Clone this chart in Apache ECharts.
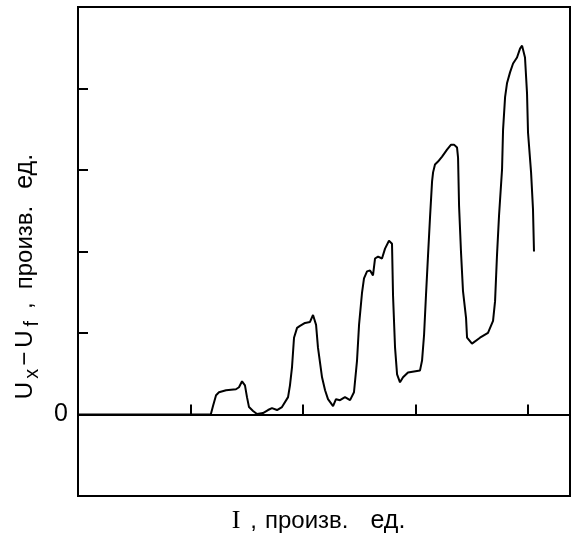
<!DOCTYPE html>
<html>
<head>
<meta charset="utf-8">
<script src="https://cdn.jsdelivr.net/npm/echarts@6/dist/echarts.min.js"></script>
<style>
  html, body { margin: 0; padding: 0; background: #fff; }
  #chart { width: 572px; height: 539px; }
</style>
</head>
<body>
<div id="chart"></div>
<script>
  // current I (arbitrary units, one tick = 1)
  var currentI = [0, 1.180, 1.200, 1.227, 1.253, 1.316, 1.404, 1.431, 1.458, 1.484, 1.502, 1.520, 1.556, 1.591,
    1.644, 1.689, 1.724, 1.769, 1.813, 1.867, 1.884, 1.902, 1.920, 1.947, 1.973, 2.018, 2.062, 2.089, 2.116,
    2.133, 2.169, 2.196, 2.222, 2.267, 2.293, 2.329, 2.373, 2.418, 2.453, 2.480, 2.498, 2.524, 2.542, 2.569,
    2.596, 2.622, 2.640, 2.667, 2.702, 2.729, 2.764, 2.791, 2.800, 2.818, 2.836, 2.862, 2.889, 2.933, 3.040,
    3.058, 3.076, 3.093, 3.111, 3.129, 3.147, 3.156, 3.173, 3.200, 3.236, 3.280, 3.316, 3.342, 3.369, 3.378,
    3.387, 3.404, 3.422, 3.449, 3.458, 3.502, 3.573, 3.644, 3.689, 3.707, 3.724, 3.742, 3.769, 3.778, 3.796,
    3.813, 3.840, 3.867, 3.902, 3.929, 3.947, 3.964, 3.973, 3.991, 4.000, 4.027, 4.044, 4.053];
  // Ux - Uf (arbitrary units, one tick = 1)
  var voltageDiff = [0, 0, 0.103, 0.237, 0.273, 0.298, 0.310, 0.334, 0.407, 0.358, 0.213, 0.091, 0.043, 0.006,
    0.018, 0.055, 0.079, 0.055, 0.091, 0.213, 0.358, 0.577, 0.942, 1.063, 1.087, 1.124, 1.136, 1.221, 1.100,
    0.820, 0.456, 0.298, 0.188, 0.103, 0.188, 0.176, 0.213, 0.176, 0.273, 0.662, 1.100, 1.488, 1.671, 1.756,
    1.768, 1.707, 1.914, 1.938, 1.914, 2.035, 2.132, 2.096, 1.464, 0.820, 0.492, 0.395, 0.456, 0.516, 0.541,
    0.662, 0.978, 1.464, 1.950, 2.424, 2.861, 2.971, 3.068, 3.104, 3.165, 3.250, 3.311, 3.311, 3.275, 3.153,
    2.558, 1.999, 1.513, 1.185, 0.942, 0.869, 0.942, 1.002, 1.148, 1.391, 1.950, 2.436, 3.007, 3.493, 3.894,
    4.064, 4.198, 4.307, 4.380, 4.490, 4.526, 4.526, 4.380, 3.943, 3.457, 2.971, 2.521, 1.999];
  var yTickLabels = ['0'];

  var chart = echarts.init(document.getElementById('chart'));
  var points = currentI.map(function (x, i) { return [x, voltageDiff[i]]; });

  chart.setOption({
    animation: false,
    grid: {
      left: 78,
      right: 2,
      top: 7,
      bottom: 39,
      show: true,
      borderColor: '#000',
      borderWidth: 2
    },
    xAxis: {
      type: 'value',
      min: 0,
      max: 4.373,
      interval: 1,
      name: '{t|I}{c|,}{w|произв.}{e|ед.}',
      nameLocation: 'middle',
      nameGap: 10,
      nameTextStyle: {
        padding: [0, 11, 0, 0],
        rich: {
          t: { fontFamily: 'Liberation Serif', fontSize: 26, color: '#000', lineHeight: 30 },
          c: { fontFamily: 'Liberation Sans', fontSize: 24, color: '#000', lineHeight: 30, padding: [0, 0, 0, 10] },
          w: { fontFamily: 'Liberation Sans', fontSize: 24, color: '#000', lineHeight: 30, padding: [0, 0, 0, 8] },
          e: { fontFamily: 'Liberation Sans', fontSize: 25, color: '#000', lineHeight: 30, padding: [0, 0, 0, 22] }
        }
      },
      axisLine: { show: false },
      axisTick: { show: true, inside: true, length: 10, lineStyle: { color: '#000', width: 2 } },
      axisLabel: { show: false },
      splitLine: { show: false }
    },
    yAxis: {
      type: 'value',
      min: -1,
      max: 5,
      interval: 1,
      name: '{m|U}{s|x}{o|−}{u|U}{f|f}{c|,}{w|произв.}{e|ед.}',
      nameLocation: 'middle',
      nameRotate: 90,
      nameGap: 36,
      nameTextStyle: {
        padding: [0, 50, 0, 0],
        rich: {
          m: { fontFamily: 'Liberation Sans', fontSize: 24, color: '#000', lineHeight: 34 },
          s: { fontFamily: 'Liberation Sans', fontSize: 20, color: '#000', lineHeight: 16, verticalAlign: 'bottom', padding: [0, 0, 0, 3] },
          o: { fontFamily: 'Liberation Sans', fontSize: 24, color: '#000', lineHeight: 34, padding: [0, 0, 0, 3] },
          u: { fontFamily: 'Liberation Sans', fontSize: 24, color: '#000', lineHeight: 34, padding: [0, 0, 0, 4] },
          f: { fontFamily: 'Liberation Sans', fontSize: 20, color: '#000', lineHeight: 16, verticalAlign: 'bottom', padding: [0, 0, 0, 4] },
          c: { fontFamily: 'Liberation Sans', fontSize: 24, color: '#000', lineHeight: 34, padding: [0, 0, 0, 12] },
          w: { fontFamily: 'Liberation Sans', fontSize: 24, color: '#000', lineHeight: 34, padding: [0, 0, 0, 13] },
          e: { fontFamily: 'Liberation Sans', fontSize: 25, color: '#000', lineHeight: 34, padding: [0, 0, 0, 17] }
        }
      },
      axisLine: { show: false },
      axisTick: { show: true, inside: true, length: 10, lineStyle: { color: '#000', width: 2 } },
      axisLabel: {
        margin: 10,
        fontFamily: 'Liberation Sans',
        fontSize: 25,
        color: '#000',
        formatter: function (v) { return yTickLabels.indexOf(String(v)) >= 0 ? String(v) : ''; }
      },
      splitLine: { show: false }
    },
    series: [{
      type: 'line',
      data: points,
      symbol: 'none',
      lineStyle: { color: '#000', width: 2 },
      markLine: {
        silent: true,
        symbol: ['none', 'none'],
        label: { show: false },
        lineStyle: { color: '#000', width: 2, type: 'solid' },
        data: [{ yAxis: 0 }]
      }
    }]
  });
</script>
</body>
</html>
